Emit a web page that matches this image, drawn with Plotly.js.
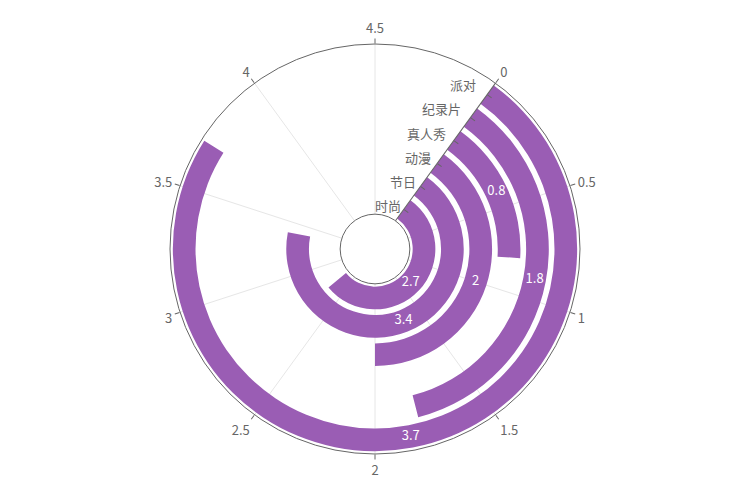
<!DOCTYPE html>
<html><head><meta charset="utf-8">
<script src="https://cdn.plot.ly/plotly-3.0.1.min.js"></script>
<style>body{margin:0}</style></head>
<body><div id="chart" style="width:750px;height:500px"></div>
<script>
var categories = ['时尚', '节日', '动漫', '真人秀', '纪录片', '派对'];
var values = [2.7, 3.4, 2, 0.8, 1.8, 3.7];
var angleTicks = [0, 0.5, 1, 1.5, 2, 2.5, 3, 3.5, 4, 4.5];
var DEG = 72; // one unit of angle axis = 72 degrees (full circle = 5)

var ring = categories.map(function (c, i) { return i + 0.1; });
var mids = categories.map(function (c, i) { return i + 0.5; });

var bars = {
  type: 'barpolar',
  r: categories.map(function () { return 0.8; }),
  base: ring,
  theta: values.map(function (v) { return v / 2 * DEG; }),
  width: values.map(function (v) { return v * DEG; }),
  marker: { color: '#9a5db4', line: { width: 0 } },
  hoverinfo: 'skip'
};
var labels = {
  type: 'scatterpolar', mode: 'text',
  r: mids,
  theta: values.map(function (v) { return v / 2 * DEG; }),
  text: values.map(String),
  textfont: { color: '#fff', size: 13, family: 'Noto Sans CJK SC, sans-serif' },
  hoverinfo: 'skip'
};
var catLabels = {
  type: 'scatterpolar', mode: 'text',
  r: mids,
  theta: categories.map(function () { return -4; }),
  text: categories,
  textposition: 'middle left',
  textfont: { color: '#666', size: 13, family: 'Noto Sans CJK SC, sans-serif' },
  hoverinfo: 'skip', cliponaxis: false
};

Plotly.newPlot('chart', [bars, labels, catLabels], {
  width: 750, height: 500,
  margin: { l: 170, r: 170, t: 38, b: 40 },
  showlegend: false,
  font: { family: 'Noto Sans CJK SC, sans-serif', size: 13, color: '#666' },
  polar: {
    hole: 0.17,
    bargap: 0,
    angularaxis: {
      rotation: 54, direction: 'clockwise',
      tickvals: angleTicks.map(function (t) { return t * DEG; }),
      ticktext: angleTicks.map(String),
      showgrid: true, gridcolor: '#e6e6e6',
      linecolor: '#666', ticks: 'outside', ticklen: 5, tickcolor: '#666'
    },
    radialaxis: {
      range: [0, 6], angle: 54,
      tickvals: mids, showticklabels: false,
      showgrid: false, showline: true, linecolor: '#666',
      ticks: 'outside', ticklen: 5, tickcolor: '#666'
    }
  }
}, { displayModeBar: false });
</script></body></html>
